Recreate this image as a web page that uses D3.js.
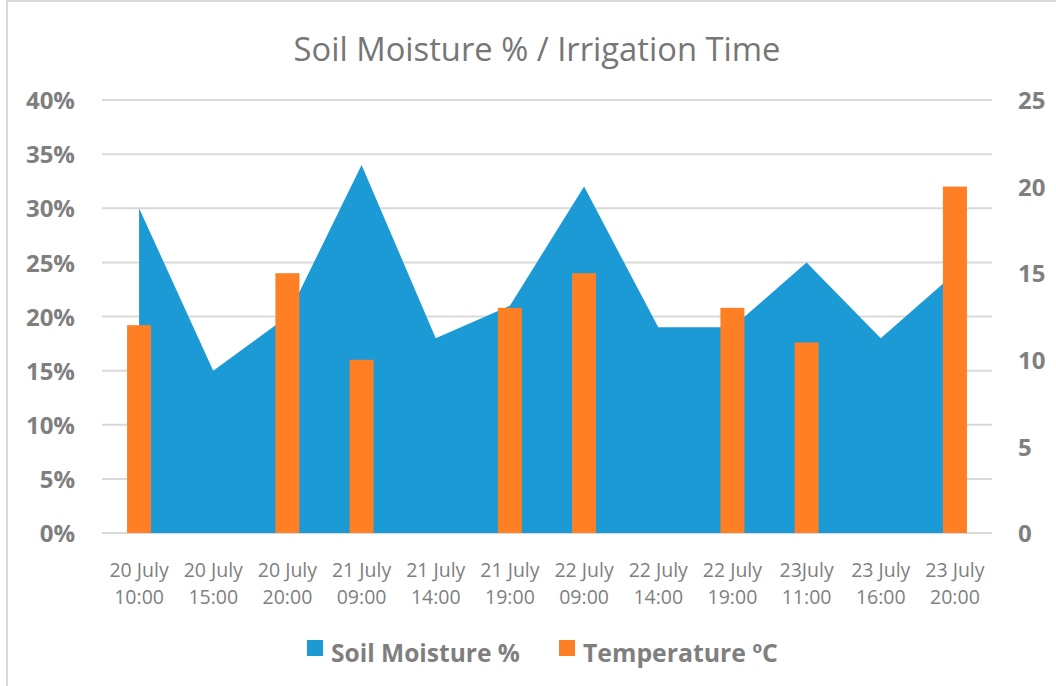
<!DOCTYPE html>
<html>
<head>
<meta charset="utf-8">
<script src="https://cdn.jsdelivr.net/npm/d3@7"></script>
<style>
  html, body { margin: 0; padding: 0; background: #fff; }
  svg { display: block; }
  text { font-family: "Open Sans", "Noto Sans", sans-serif; }
</style>
</head>
<body>
<svg id="chart" width="1056" height="686"></svg>
<script>
const categories = [
  ["20 July", "10:00"], ["20 July", "15:00"], ["20 July", "20:00"],
  ["21 July", "09:00"], ["21 July", "14:00"], ["21 July", "19:00"],
  ["22 July", "09:00"], ["22 July", "14:00"], ["22 July", "19:00"],
  ["23July", "11:00"], ["23 July", "16:00"], ["23 July", "20:00"]
];
const soilMoisture = [30, 15, 20, 34, 18, 21, 32, 19, 19, 25, 18, 24];
const temperature = [12, null, 15, 10, null, 13, 15, null, 13, 11, null, 20];
const leftTicks = [0, 5, 10, 15, 20, 25, 30, 35, 40];
const rightTicks = [0, 5, 10, 15, 20, 25];
const seriesNames = ["Soil Moisture %", "Temperature ºC"];
const colors = ["#1b9ad6", "#fe7f24"];

const svg = d3.select("#chart");
const W = 1056, H = 686;
const plot = { left: 102, right: 992, top: 100, bottom: 533 };
const grey = "#7f7f7f";

function fitWidth(sel, target) {
  const size = +sel.attr("font-size");
  const w = sel.node().getComputedTextLength();
  if (w > 0) sel.attr("font-size", size * target / w);
}

// outer border
svg.append("rect").attr("x", 7).attr("y", 1).attr("width", W + 10).attr("height", H + 10)
  .attr("fill", "none").attr("stroke", "#d9d9d9").attr("stroke-width", 2);

const keys = categories.map((c, i) => i);
const x = d3.scaleBand().domain(keys).range([plot.left, plot.right]).padding(0);
const yL = d3.scaleLinear().domain([0, 40]).range([plot.bottom, plot.top]);
const yR = d3.scaleLinear().domain([0, 25]).range([plot.bottom, plot.top]);
const cx = i => x(i) + x.bandwidth() / 2;

// gridlines
svg.append("g").selectAll("line").data(leftTicks).join("line")
  .attr("x1", plot.left).attr("x2", plot.right)
  .attr("y1", d => yL(d)).attr("y2", d => yL(d))
  .attr("stroke", "#d9d9d9").attr("stroke-width", 2);

// area
const area = d3.area().x((d, i) => cx(i)).y0(yL(0)).y1(d => yL(d));
svg.append("path").datum(soilMoisture).attr("d", area).attr("fill", colors[0]);

// bars
const bw = 24;
svg.append("g").selectAll("rect").data(temperature.map((v, i) => ({ v, i })).filter(d => d.v != null))
  .join("rect")
  .attr("x", d => cx(d.i) - bw / 2).attr("width", bw)
  .attr("y", d => yR(d.v)).attr("height", d => yR(0) - yR(d.v))
  .attr("fill", colors[1]);

// left axis
const axL = d3.axisLeft(yL).tickValues(leftTicks).tickFormat(d => d + "%").tickSize(0).tickPadding(0);
const gL = svg.append("g").attr("transform", `translate(75,0)`).call(axL);
gL.select(".domain").remove();
gL.selectAll("text").attr("fill", grey).attr("font-size", 24).attr("font-weight", "bold")
  .attr("font-family", "'Open Sans', sans-serif").attr("dy", "0.36em");

// right axis
const axR = d3.axisRight(yR).tickValues(rightTicks).tickSize(0).tickPadding(0);
const gR = svg.append("g").attr("transform", `translate(1018,0)`).call(axR);
gR.select(".domain").remove();
gR.selectAll("text").attr("fill", grey).attr("font-size", 24).attr("font-weight", "bold")
  .attr("font-family", "'Open Sans', sans-serif").attr("dy", "0.36em");

// category labels
const axB = d3.axisBottom(x).tickSize(0).tickFormat(() => "");
const gB = svg.append("g").attr("transform", `translate(0,${plot.bottom})`).call(axB);
gB.select(".domain").remove();
gB.selectAll(".tick").each(function (d) {
  const t = d3.select(this).append("text").attr("fill", grey).attr("font-size", 19.5)
    .attr("text-anchor", "middle").attr("font-family", "'Open Sans', sans-serif");
  t.append("tspan").attr("x", 0).attr("y", 44).text(categories[d][0]);
  t.append("tspan").attr("x", 0).attr("y", 71).text(categories[d][1]);
});

// title
const title = svg.append("text").attr("x", 537).attr("y", 61).attr("text-anchor", "middle")
  .attr("fill", "#767676").attr("font-size", 28)
  .text("Soil Moisture % / Irrigation Time");
fitWidth(title, 487);

// legend
const legendX = [307, 559];
const legendW = [189, 195];
seriesNames.forEach((name, i) => {
  const g = svg.append("g").attr("transform", `translate(${legendX[i]},640)`);
  g.append("rect").attr("width", 16).attr("height", 16).attr("fill", colors[i]);
  const t = g.append("text").attr("x", 24).attr("y", 22).attr("fill", grey)
    .attr("font-size", 22).attr("font-weight", "bold").text(name);
  fitWidth(t, legendW[i]);
});
</script>
</body>
</html>
